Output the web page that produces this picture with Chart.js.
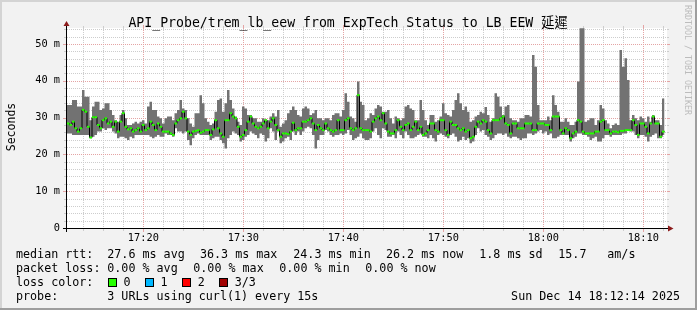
<!DOCTYPE html>
<html><head><meta charset="utf-8">
<script src="https://cdn.jsdelivr.net/npm/chart.js@4.4.1/dist/chart.umd.min.js"></script>
<style>html,body{margin:0;padding:0;background:#f2f2f2}#wrap{position:relative;width:697px;height:310px}canvas{display:block}</style>
</head><body><div id="wrap"><canvas id="c" width="697" height="310"></canvas></div>
<script>
const titleText = "API_Probe/trem_lb_eew from ExpTech Status to LB EEW 延遲";
const yAxisTitle = "Seconds";
const watermark = "RRDTOOL / TOBI OETIKER";
const startTime = "17:12:22";
const stepSeconds = 15;
const spanSeconds = 3600;
const xTickLabels = ["17:20","17:30","17:40","17:50","18:00","18:10"];
const yTickValues = [0,10,20,30,40,50];
const yTickLabels = ["0","10 m","20 m","30 m","40 m","50 m"];
const yMax = 54.35;

// round trip times in ms, one entry per 15 s step
const rttMax = [
33.4,33.4,34.8,34.8,33.0,33.0,37.5,35.7,35.7,29.3,
33.0,34.3,34.3,32.1,32.5,33.9,33.9,32.1,30.7,29.3,
28.9,30.7,32.1,29.8,28.0,28.0,28.4,28.9,28.4,28.9,
29.3,28.4,33.0,34.3,32.1,32.1,30.3,29.8,28.4,29.8,
30.3,30.3,29.3,31.2,32.1,34.8,32.5,32.1,29.8,28.4,
27.5,31.2,31.2,36.1,33.9,29.8,28.9,28.0,28.4,31.6,
34.8,35.2,31.6,33.9,37.5,34.8,32.5,30.3,28.9,28.0,
33.0,32.5,30.7,30.7,29.8,29.8,28.9,28.9,29.8,29.3,
29.3,30.3,31.2,30.3,32.1,27.5,28.4,29.3,31.2,32.1,
33.0,32.1,30.7,30.3,32.5,33.0,32.5,30.7,31.2,32.1,
29.8,29.8,29.3,29.8,29.8,29.3,30.7,31.2,31.2,30.3,
32.1,36.6,34.3,30.3,29.8,28.9,39.8,34.3,33.4,29.3,
29.8,31.2,30.7,32.5,33.4,33.0,31.6,31.6,32.1,29.8,
28.4,30.3,29.8,29.3,29.8,33.0,33.4,32.5,32.1,29.3,
29.3,34.8,32.1,29.3,28.0,30.7,30.7,28.9,29.3,30.3,
33.9,31.2,30.7,30.3,32.1,34.8,36.6,33.9,32.1,33.0,
31.6,28.9,29.3,30.3,30.7,31.6,31.2,32.9,30.7,28.9,
29.8,36.6,35.7,33.0,30.7,33.0,33.4,29.8,29.3,29.3,
28.9,29.8,29.8,30.7,30.7,30.3,47.0,43.8,33.4,29.3,
29.3,29.3,30.3,29.3,36.1,33.4,31.6,28.9,28.9,29.8,
28.9,28.0,28.0,28.9,39.8,54.3,54.3,28.9,29.3,29.8,
29.8,28.0,29.3,33.4,32.5,29.3,28.4,27.1,28.0,28.4,
28.0,48.4,43.8,46.1,40.2,29.3,30.7,29.8,29.3,30.3,
29.8,28.9,30.3,28.9,30.7,29.3,29.3,28.0,35.2
];
const rttMedian = [
28.4,28.0,28.9,27.1,26.2,27.1,32.1,31.6,27.5,24.6,
30.1,30.1,28.0,27.1,29.3,29.8,28.4,28.9,27.5,28.9,
26.2,28.9,31.2,27.5,26.8,27.1,26.2,26.6,27.1,26.2,
28.0,26.6,27.1,28.9,28.0,26.6,28.4,27.5,26.2,26.2,
26.2,25.7,25.3,28.4,29.3,29.8,31.6,29.8,26.2,25.3,
26.2,26.4,26.6,25.9,26.2,26.6,26.6,25.3,26.8,29.3,
27.1,25.7,24.8,29.3,29.3,31.2,30.3,29.8,27.5,24.8,
25.3,26.6,28.9,30.3,28.4,27.5,27.1,27.5,28.4,29.3,
27.1,28.9,29.8,28.0,26.6,24.8,25.7,25.7,25.5,26.2,
28.6,26.6,27.1,27.1,28.9,28.9,29.3,29.8,28.4,26.6,
28.0,27.1,26.6,28.4,27.1,26.6,26.2,26.6,29.3,26.6,
26.6,29.3,29.8,27.1,26.6,27.1,36.1,27.1,26.6,26.6,
26.6,26.2,28.9,29.8,30.3,29.3,31.2,28.4,26.2,25.7,
25.7,26.6,29.3,27.5,26.6,28.0,28.4,26.6,27.5,28.9,
26.6,27.5,25.3,25.7,26.6,28.4,28.4,26.6,26.2,29.3,
29.3,26.6,25.3,28.9,28.0,28.0,27.1,26.6,27.1,26.2,
26.6,24.4,24.8,27.5,28.9,28.4,29.3,28.9,26.6,25.7,
29.3,29.3,29.3,29.8,30.3,28.4,28.0,25.7,28.4,28.4,
27.1,27.1,27.1,28.4,28.4,28.4,26.6,26.6,28.4,28.4,
28.4,28.0,28.0,26.6,30.3,30.3,30.3,26.6,25.7,27.1,
26.6,24.4,25.7,26.2,29.3,28.9,26.2,25.7,25.7,25.7,
25.7,26.2,26.2,28.9,29.3,26.6,26.6,25.7,26.2,26.2,
26.0,26.4,26.4,26.6,26.6,26.6,29.3,28.0,25.3,28.4,
28.4,27.5,25.7,28.4,30.3,28.4,28.4,24.8,26.2
];
const rttMin = [
25.7,25.7,25.3,25.3,25.3,25.3,25.3,25.3,25.3,24.4,
24.8,25.3,26.2,26.2,27.1,26.6,27.1,27.1,26.2,25.7,
24.4,24.8,24.8,24.4,23.9,24.8,24.4,25.3,25.3,25.3,
25.3,25.3,25.3,24.8,24.4,24.8,25.3,24.8,24.8,25.7,
25.3,25.3,24.8,27.1,26.2,26.2,25.7,26.2,23.9,22.5,
24.4,25.3,25.7,25.3,25.3,25.3,25.3,23.9,24.4,24.8,
24.8,23.9,23.0,21.6,24.4,25.3,26.2,25.7,25.3,23.5,
23.9,24.8,25.3,26.2,25.7,25.3,24.4,25.7,25.3,23.5,
24.4,27.1,26.2,23.9,26.2,23.0,23.5,24.4,24.8,23.9,
26.2,25.3,26.2,25.3,26.2,27.1,27.5,27.1,25.3,21.6,
23.9,25.3,25.3,26.6,26.2,25.3,24.8,25.3,25.3,25.7,
25.3,25.7,26.6,25.3,23.9,24.4,24.8,25.7,24.4,23.9,
23.9,24.4,26.2,27.1,25.3,24.4,27.1,26.6,24.8,24.8,
25.3,24.4,26.2,25.3,24.4,26.2,25.3,24.4,24.4,24.8,
25.3,25.7,24.8,24.8,24.4,25.3,24.4,23.5,25.3,25.7,
25.3,24.8,24.4,25.3,25.7,24.8,23.5,23.9,24.8,23.9,
24.4,23.0,23.5,25.3,27.1,26.2,26.6,25.3,24.8,23.9,
24.4,25.3,25.7,25.7,25.3,25.7,24.8,24.4,24.8,24.8,
24.4,23.9,24.4,24.4,25.7,25.7,25.3,25.7,26.2,26.6,
25.7,26.2,25.3,25.7,24.4,24.4,24.8,25.3,25.3,25.3,
25.3,23.5,24.4,24.8,25.7,25.7,25.3,25.3,24.8,23.9,
24.4,24.8,23.5,23.5,24.4,25.3,25.3,24.8,25.3,25.3,
25.3,25.3,25.7,25.7,26.6,26.2,26.2,25.3,24.4,25.3,
25.3,24.8,23.5,24.8,25.3,25.7,24.4,24.4,25.3
];

const rttStats = ["median rtt:","27.6 ms avg","36.3 ms max","24.3 ms min","26.2 ms now","1.8 ms sd","15.7","am/s"];
const lossStats = ["packet loss:","0.00 % avg","0.00 % max","0.00 % min","0.00 % now"];
const lossTitle = "loss color:";
const lossLabels = ["0","1","2","3/3"];
const lossColors = ["#26ff00","#00b8ff","#ff0000","#a00000"];
const probeStats = ["probe:","3 URLs using curl(1) every 15s"];
const dateText = "Sun Dec 14 18:12:14 2025";

const toSec = s => s.split(':').reduce((a, b) => a * 60 + Number(b), 0);
const t0 = toSec(startTime);
const stepPts = arr => {
  const p = arr.map((v, i) => ({x: t0 + i * stepSeconds, y: v}));
  p.push({x: t0 + arr.length * stepSeconds, y: arr[arr.length - 1]});
  return p;
};
const centerPts = arr => arr.map((v, i) => ({x: t0 + (i + 0.5) * stepSeconds, y: v}));

const MONO = '"DejaVu Sans Mono", "Noto Sans CJK TC", monospace';

const rrdPlugin = {
  id: 'rrd',
  beforeDraw(chart) {
    const ctx = chart.ctx, a = chart.chartArea;
    ctx.save();
    ctx.fillStyle = '#f2f2f2'; ctx.fillRect(0, 0, 697, 310);
    ctx.fillStyle = '#d4d4d4'; ctx.fillRect(0, 0, 697, 2); ctx.fillRect(0, 0, 2, 310);
    ctx.fillStyle = '#9e9e9e'; ctx.fillRect(0, 308, 697, 2); ctx.fillRect(695, 0, 2, 310);
    ctx.fillStyle = '#ffffff'; ctx.fillRect(a.left, a.top, a.right - a.left, a.bottom - a.top);
    ctx.restore();
  },
  beforeDatasetsDraw(chart) {
    const ctx = chart.ctx, a = chart.chartArea, xs = chart.scales.x, ys = chart.scales.y;
    ctx.save();
    ctx.lineWidth = 1;
    const drawH = (major) => {
      for (let v = 2; v <= yMax; v += 2) {
        const isMajor = v % 10 === 0;
        if (isMajor !== major) continue;
        const y = Math.round(ys.getPixelForValue(v)) + 0.5;
        ctx.strokeStyle = major ? '#e4a4a4' : '#cdcdcd';
        ctx.setLineDash([1, 1]);
        ctx.beginPath(); ctx.moveTo(a.left, y); ctx.lineTo(a.right, y); ctx.stroke();
        ctx.setLineDash([]);
        const tl = major ? 3 : 2;
        ctx.beginPath(); ctx.moveTo(a.left - 1 - tl, y); ctx.lineTo(a.left - 1, y);
        ctx.moveTo(a.right, y); ctx.lineTo(a.right + tl, y); ctx.stroke();
      }
    };
    const drawV = (major) => {
      for (let t = Math.ceil(t0 / 120) * 120; t <= t0 + spanSeconds; t += 120) {
        const isMajor = t % 600 === 0;
        if (isMajor !== major) continue;
        const x = Math.round(xs.getPixelForValue(t)) + 0.5;
        ctx.strokeStyle = major ? '#e4a4a4' : '#cdcdcd';
        ctx.setLineDash([1, 1]);
        ctx.beginPath(); ctx.moveTo(x, a.top); ctx.lineTo(x, a.bottom); ctx.stroke();
        ctx.setLineDash([]);
        const tl = major ? 3 : 2;
        ctx.beginPath(); ctx.moveTo(x, a.bottom + 1); ctx.lineTo(x, a.bottom + 1 + tl);
        ctx.moveTo(x, a.top); ctx.lineTo(x, a.top - tl); ctx.stroke();
      }
    };
    drawH(false); drawV(false); drawH(true); drawV(true);
    ctx.restore();
  },
  afterDatasetsDraw(chart) {
    const ctx = chart.ctx, a = chart.chartArea;
    ctx.save();
    ctx.strokeStyle = '#000'; ctx.lineWidth = 1; ctx.setLineDash([]);
    ctx.beginPath();
    ctx.moveTo(a.left - 4, a.bottom + 0.5); ctx.lineTo(a.right + 2, a.bottom + 0.5);
    ctx.moveTo(a.left - 0.5, a.bottom + 4); ctx.lineTo(a.left - 0.5, a.top - 2);
    ctx.stroke();
    ctx.fillStyle = '#8c1c1c';
    ctx.beginPath();
    ctx.moveTo(a.left - 3.5, a.top - 2); ctx.lineTo(a.left + 2.5, a.top - 2); ctx.lineTo(a.left - 0.5, a.top - 7); ctx.closePath(); ctx.fill();
    ctx.beginPath();
    ctx.moveTo(a.right + 1, a.bottom - 2.5); ctx.lineTo(a.right + 1, a.bottom + 3.5); ctx.lineTo(a.right + 6.5, a.bottom + 0.5); ctx.closePath(); ctx.fill();
    ctx.restore();
  },
  afterDraw(chart) {
    const ctx = chart.ctx;
    ctx.save();
    ctx.fillStyle = '#000';
    ctx.textBaseline = 'alphabetic';
    ctx.font = '13.2px ' + MONO;
    ctx.textAlign = 'center';
    ctx.fillText(titleText, 348, 26.5);

    ctx.save();
    ctx.font = '11.5px ' + MONO;
    ctx.translate(15, 127);
    ctx.rotate(-Math.PI / 2);
    ctx.textAlign = 'center';
    ctx.fillText(yAxisTitle, 0, 0);
    ctx.restore();

    ctx.save();
    ctx.font = '8.3px ' + MONO;
    ctx.fillStyle = '#bcbcbc';
    ctx.translate(685, 5);
    ctx.rotate(Math.PI / 2);
    ctx.textAlign = 'left';
    ctx.fillText(watermark, 0, 0);
    ctx.restore();

    ctx.font = '11.7px ' + MONO;
    ctx.textAlign = 'left';
    const rttX = [16, 107.3, 200, 293.3, 386, 479.3, 558.3, 607.3];
    rttStats.forEach((s, i) => ctx.fillText(s, rttX[i], 258.3));
    const lossX = [16, 107.3, 193.3, 279.3, 365.3];
    lossStats.forEach((s, i) => ctx.fillText(s, lossX[i], 272.3));
    ctx.fillText(lossTitle, 16, 286.3);
    lossLabels.forEach((s, i) => {
      const bx = 108 + 37.1 * i;
      ctx.fillStyle = lossColors[i];
      ctx.fillRect(Math.round(bx), 278, 9, 9);
      ctx.strokeStyle = '#000'; ctx.lineWidth = 1;
      ctx.strokeRect(Math.round(bx) + 0.5, 278.5, 8, 8);
      ctx.fillStyle = '#000';
      ctx.fillText(s, bx + 15.5, 286.3);
    });
    ctx.fillText(probeStats[0], 16, 300);
    ctx.fillText(probeStats[1], 107.3, 300);
    ctx.textAlign = 'right';
    ctx.fillText(dateText, 680, 300);
    ctx.restore();
  }
};

new Chart(document.getElementById('c'), {
  type: 'line',
  data: {
    datasets: [
      {label: 'median', data: centerPts(rttMedian), showLine: false, pointStyle: 'line',
       pointRadius: 1.3, pointBorderWidth: 2, pointBorderColor: lossColors[0], pointBackgroundColor: lossColors[0], order: 0},
      {label: 'median step', data: stepPts(rttMedian), stepped: true, borderColor: '#000', borderWidth: 1,
       pointRadius: 0, fill: false, order: 1},
      {label: 'max', data: stepPts(rttMax), stepped: true, borderColor: 'rgba(0,0,0,0)', borderWidth: 1,
       pointRadius: 0, fill: '+1', backgroundColor: '#727272', order: 2},
      {label: 'min', data: stepPts(rttMin), stepped: true, borderColor: 'rgba(0,0,0,0)', borderWidth: 1,
       pointRadius: 0, fill: false, order: 3}
    ]
  },
  options: {
    responsive: false, animation: false, devicePixelRatio: 1, events: [],
    layout: {padding: {top: 28, right: 30, left: 0, bottom: 0}},
    plugins: {legend: {display: false}, tooltip: {enabled: false}, title: {display: false}},
    scales: {
      x: {
        type: 'linear', min: t0, max: t0 + spanSeconds,
        grid: {display: false, drawTicks: false}, border: {display: false},
        afterBuildTicks: s => { s.ticks = xTickLabels.map(l => ({value: toSec(l + ':00')})); },
        afterFit: s => { s.height = 82; },
        ticks: {autoSkip: false, maxRotation: 0, minRotation: 0, padding: 4, color: '#000',
          font: {family: MONO, size: 10.3}, callback: (v, i) => xTickLabels[i]}
      },
      y: {
        type: 'linear', min: 0, max: yMax,
        grid: {display: false, drawTicks: false}, border: {display: false},
        afterBuildTicks: s => { s.ticks = yTickValues.map(v => ({value: v})); },
        afterFit: s => { s.width = 67; },
        ticks: {autoSkip: false, padding: 7, color: '#000',
          font: {family: MONO, size: 10.3}, callback: (v, i) => yTickLabels[i]}
      }
    }
  },
  plugins: [rrdPlugin]
});
</script>
</body></html>
